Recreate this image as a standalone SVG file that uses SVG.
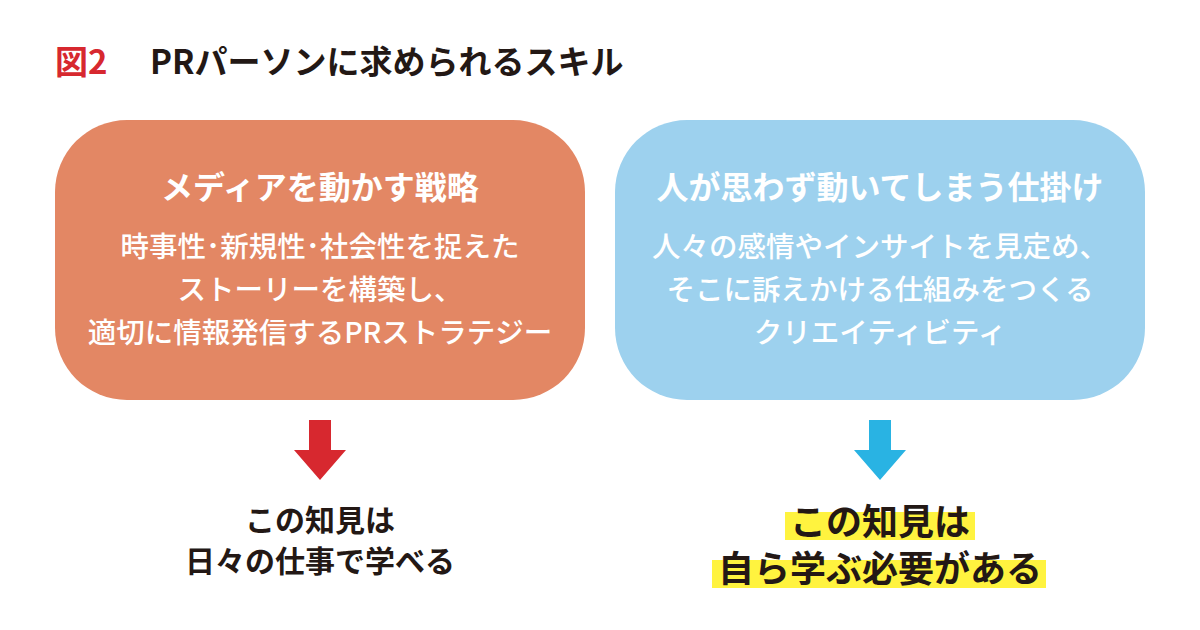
<svg xmlns="http://www.w3.org/2000/svg" width="1200" height="630" viewBox="0 0 1200 630">
<style>
text{font-family:"Noto Sans CJK JP","Noto Sans",sans-serif;font-weight:bold;text-anchor:middle}
.h{fill:#fff;font-size:32px}
.b{fill:#fff;font-size:28.5px;font-weight:500}
.o{fill:#231815;font-size:30px}
.o2{fill:#231815;font-size:36px}
</style>
<rect width="1200" height="630" fill="#fff"/>
<g id="title">
<text x="55" y="74" style="text-anchor:start;font-size:33px;fill:#D7282F">図2</text>
<text x="150" y="74" style="text-anchor:start;font-size:33px;fill:#231815">PRパーソンに求められるスキル</text>
</g>
<g id="left">
<rect x="55" y="120" width="530" height="280" rx="72" fill="#E38764"/>
<text class="h" x="320" y="199">メディアを動かす戦略</text>
<text class="b" x="320" y="257">時事性･新規性･社会性を捉えた</text>
<text class="b" x="320" y="300">ストーリーを構築し、</text>
<text class="b" x="320" y="343">適切に情報発信するPRストラテジー</text>
</g>
<g id="right">
<rect x="615" y="120" width="530" height="280" rx="72" fill="#9DD1EE"/>
<text class="h" x="880" y="199">人が思わず動いてしまう仕掛け</text>
<text class="b" x="880" y="257">人々の感情やインサイトを見定め、</text>
<text class="b" x="880" y="300">そこに訴えかける仕組みをつくる</text>
<text class="b" x="880" y="343">クリエイティビティ</text>
</g>
<g id="connectors">
<polygon points="309,420 331,420 331,450 346,450 320,480 294,450 309,450" fill="#D7282F"/>
<polygon points="869,420 891,420 891,450 906,450 880,480 854,450 869,450" fill="#29B3E3"/>
</g>
<g id="out-left">
<text class="o" x="320" y="531">この知見は</text>
<text class="o" x="320" y="572">日々の仕事で学べる</text>
</g>
<g id="out-right">
<rect x="785" y="512" width="190" height="28" fill="#FFF33F"/>
<rect x="712" y="560" width="334" height="28" fill="#FFF33F"/>
<text class="o2" x="880" y="535">この知見は</text>
<text class="o2" x="880" y="582">自ら学ぶ必要がある</text>
</g>
</svg>
